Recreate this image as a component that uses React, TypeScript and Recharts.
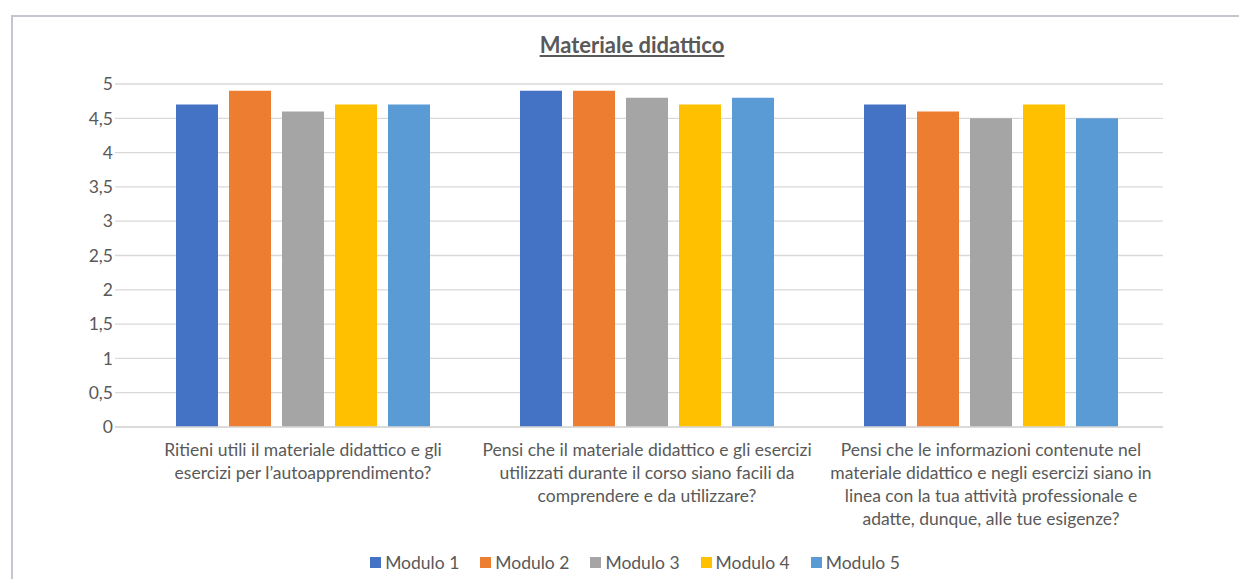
import { BarChart, Bar, XAxis, YAxis, CartesianGrid, Legend } from 'recharts';

const QUESTIONS = [
  ['Ritieni utili il materiale didattico e gli', 'esercizi per l\u2019autoapprendimento?'],
  ['Pensi che il materiale didattico e gli esercizi', 'utilizzati durante il corso siano facili da', 'comprendere e da utilizzare?'],
  ['Pensi che le informazioni contenute nel', 'materiale didattico e negli esercizi siano in', 'linea con la tua attivit\u00e0 professionale e', 'adatte, dunque, alle tue esigenze?'],
];

const MODULO_1 = [4.7, 4.9, 4.7];
const MODULO_2 = [4.9, 4.9, 4.6];
const MODULO_3 = [4.6, 4.8, 4.5];
const MODULO_4 = [4.7, 4.7, 4.7];
const MODULO_5 = [4.7, 4.8, 4.5];

const Y_TICKS = [0, 0.5, 1, 1.5, 2, 2.5, 3, 3.5, 4, 4.5, 5];

const SERIES = [
  { key: 'm1', name: 'Modulo 1', color: '#4472C4', values: MODULO_1 },
  { key: 'm2', name: 'Modulo 2', color: '#ED7D31', values: MODULO_2 },
  { key: 'm3', name: 'Modulo 3', color: '#A5A5A5', values: MODULO_3 },
  { key: 'm4', name: 'Modulo 4', color: '#FFC000', values: MODULO_4 },
  { key: 'm5', name: 'Modulo 5', color: '#5B9BD5', values: MODULO_5 },
];

const data = QUESTIONS.map((lines, i) => {
  const row: Record<string, string | number> = { label: lines.join('\n') };
  SERIES.forEach((s) => {
    row[s.key] = s.values[i];
  });
  return row;
});

const FONT = 'Lato, "Open Sans", sans-serif';
const TEXT = '#595959';

function QuestionTick({ x, y, payload }: any) {
  const lines = String(payload.value).split('\n');
  return (
    <text x={x} y={y} textAnchor="middle" fill={TEXT} fontSize={17.5} fontFamily={FONT}>
      {lines.map((l, i) => (
        <tspan key={i} x={x} dy={i === 0 ? 29 : 23}>
          {l}
        </tspan>
      ))}
    </text>
  );
}

function ModuleLegend() {
  return (
    <div style={{ display: 'flex', justifyContent: 'center', alignItems: 'center', height: 30, fontFamily: FONT, fontSize: 17.5, color: TEXT, paddingLeft: 52 }}>
      {SERIES.map((s) => (
        <span key={s.key} style={{ display: 'inline-flex', alignItems: 'center', marginRight: 21 }}>
          <span style={{ width: 11, height: 11, background: s.color, marginRight: 4, display: 'inline-block' }} />
          {s.name}
        </span>
      ))}
    </div>
  );
}

export default function App() {
  return (
    <div style={{ position: 'absolute', left: 0, top: 0, width: 1239, height: 579, overflow: 'hidden', background: '#fff' }}>
      <div style={{ position: 'absolute', left: 11, top: 15, width: 1400, height: 800, border: '2px solid #c3c7cd' }} />
      <div style={{ position: 'absolute', left: 432, top: 31, width: 400, textAlign: 'center', fontFamily: FONT, fontWeight: 700, fontSize: 22, color: TEXT, textDecoration: 'underline' }}>
        Materiale didattico
      </div>
      <BarChart
        width={1239}
        height={579}
        data={data}
        margin={{ top: 84, right: 76, bottom: 0, left: 0 }}
        barCategoryGap={45}
        barGap={11}
        style={{ position: 'absolute', left: 0, top: 0 }}
      >
        <CartesianGrid vertical={false} stroke="#d9d9d9" strokeWidth={1.3} />
        <XAxis
          dataKey="label"
          height={122}
          padding={{ left: 16, right: 0 }}
          tickLine={false}
          axisLine={{ stroke: '#d9d9d9', strokeWidth: 1.5 }}
          tickSize={0}
          tickMargin={0}
          interval={0}
          tick={<QuestionTick />}
        />
        <YAxis
          width={115}
          domain={[0, 5]}
          ticks={Y_TICKS}
          interval={0}
          axisLine={false}
          tickLine={false}
          tickSize={0}
          tickMargin={2}
          tick={{ fill: TEXT, fontSize: 17.5, fontFamily: FONT }}
          tickFormatter={(v: number) => String(v).replace('.', ',')}
        />
        <Legend verticalAlign="bottom" content={<ModuleLegend />} wrapperStyle={{ height: 30, bottom: 2, left: 0, width: 1239 }} />
        {SERIES.map((s) => (
          <Bar key={s.key} dataKey={s.key} name={s.name} fill={s.color} isAnimationActive={false} />
        ))}
      </BarChart>
    </div>
  );
}
